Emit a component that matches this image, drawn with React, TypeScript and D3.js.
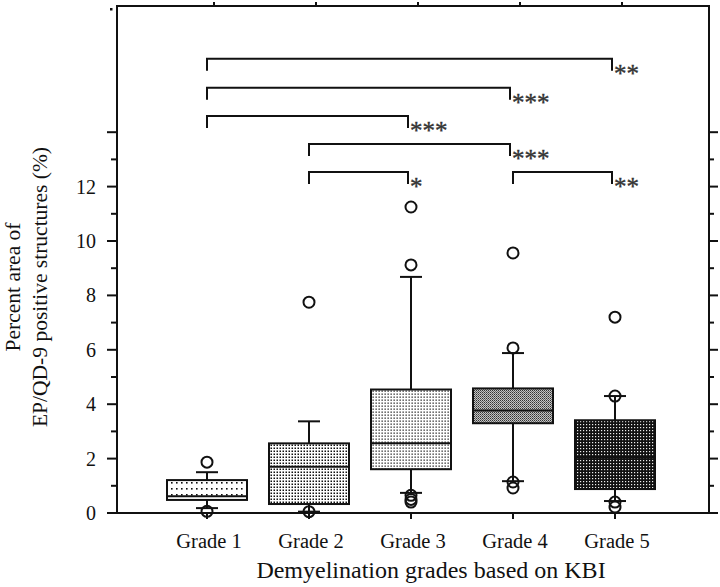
import React from "react";
import * as d3 from "d3";

const categories = ["Grade 1", "Grade 2", "Grade 3", "Grade 4", "Grade 5"];
const q1 = [0.48, 0.33, 1.61, 3.3, 0.88];
const medians = [0.62, 1.7, 2.56, 3.77, 2.05];
const q3 = [1.21, 2.56, 4.54, 4.58, 3.41];
const whiskerLow = [0.18, 0.05, 0.74, 1.17, 0.44];
const whiskerHigh = [1.5, 3.37, 8.68, 5.88, 4.3];
const outliers = [
  [1.87, 0.06],
  [7.75, 0.05],
  [11.25, 9.12, 0.65, 0.5, 0.4],
  [9.56, 6.07, 1.14, 0.92],
  [7.2, 4.3, 0.4, 0.22],
];
const yTicks = [0, 2, 4, 6, 8, 10, 12];
const compFrom = ["Grade 1", "Grade 1", "Grade 1", "Grade 2", "Grade 2", "Grade 4"];
const compTo = ["Grade 5", "Grade 4", "Grade 3", "Grade 4", "Grade 3", "Grade 5"];
const compLevel = [16.7, 15.63, 14.6, 13.57, 12.54, 12.54];
const compLabel = ["**", "***", "***", "***", "*", "**"];

const W = 720, H = 587;
const L = 117, R = 709, T = 6, B = 513;
const serif = "'Liberation Serif', 'DejaVu Serif', serif";

export default function App() {
  const y = d3.scaleLinear().domain([0, (B - T) / 27.2]).range([B, T]);
  const x = d3.scalePoint<string>().domain(categories).range([207, 615]);
  const bw = 80;
  const minor = d3.range(1, 15, 2);
  const major = d3.range(0, 15, 2);
  const pats = ["p1", "p2", "p3", "p4", "p5"];

  return (
    <svg width={W} height={H} style={{ display: "block", position: "absolute", left: 0, top: 0 }}>
      <defs>
        <pattern id="p1" width="5" height="6" patternUnits="userSpaceOnUse">
          <rect width="5" height="6" fill="#fff" />
          <rect x="1" y="2" width="1.6" height="1.6" fill="#111" />
        </pattern>
        <pattern id="p2" width="3" height="3" patternUnits="userSpaceOnUse">
          <rect width="3" height="3" fill="#fff" />
          <rect x="0.5" y="0.5" width="1.5" height="1.5" fill="#111" />
        </pattern>
        <pattern id="p3" width="3" height="3" patternUnits="userSpaceOnUse">
          <rect width="3" height="3" fill="#fff" />
          <rect x="0.5" y="0.5" width="1.3" height="1.3" fill="#222" />
        </pattern>
        <pattern id="p4" width="2" height="2" patternUnits="userSpaceOnUse">
          <rect width="2" height="2" fill="#c4c4c4" />
          <rect x="0" y="0" width="1" height="1" fill="#333" />
          <rect x="1" y="1" width="1" height="1" fill="#666" />
        </pattern>
        <pattern id="p5" width="3" height="3" patternUnits="userSpaceOnUse">
          <rect width="3" height="3" fill="#111" />
          <rect x="1" y="1" width="1.2" height="1.2" fill="#eee" />
        </pattern>
      </defs>

      {/* frame */}
      <rect x={L} y={T} width={R - L} height={B - T} fill="none" stroke="#111" strokeWidth={2} />
      <rect x={110} y={8} width={2.5} height={2.5} fill="#111" />

      {/* left axis ticks */}
      {major.map((v) => (
        <line key={"lm" + v} x1={L - 10} x2={L} y1={y(v)} y2={y(v)} stroke="#111" strokeWidth={2} />
      ))}
      {minor.map((v) => (
        <line key={"ln" + v} x1={L - 6} x2={L} y1={y(v)} y2={y(v)} stroke="#111" strokeWidth={2} />
      ))}
      {/* right axis ticks */}
      {major.map((v) => (
        <line key={"rm" + v} x1={R} x2={R + 9} y1={y(v)} y2={y(v)} stroke="#111" strokeWidth={2} />
      ))}
      {minor.map((v) => (
        <line key={"rn" + v} x1={R} x2={R + 5} y1={y(v)} y2={y(v)} stroke="#111" strokeWidth={2} />
      ))}
      {yTicks.map((v) => (
        <text key={"yt" + v} x={96} y={y(v) + 7} textAnchor="end" fontFamily={serif} fontSize={20} fill="#111">
          {v}
        </text>
      ))}
      {/* bottom / top ticks */}
      {categories.map((c) => (
        <g key={"xt" + c}>
          <line x1={x(c)!} x2={x(c)!} y1={B} y2={B + 6} stroke="#111" strokeWidth={2} />
          <line x1={x(c)! + 7} x2={x(c)! + 7} y1={T} y2={T - 4} stroke="#111" strokeWidth={2} />
          <text x={x(c)! + 2} y={548} textAnchor="middle" fontFamily={serif} fontSize={20.5} fill="#111">
            {c}
          </text>
        </g>
      ))}

      {/* boxes */}
      {categories.map((c, i) => {
        const cx = x(c)!;
        return (
          <g key={"box" + c}>
            <line x1={cx} x2={cx} y1={y(whiskerHigh[i])} y2={y(q3[i])} stroke="#111" strokeWidth={2} />
            <line x1={cx} x2={cx} y1={y(q1[i])} y2={y(whiskerLow[i])} stroke="#111" strokeWidth={2} />
            <line x1={cx - 11} x2={cx + 11} y1={y(whiskerHigh[i])} y2={y(whiskerHigh[i])} stroke="#111" strokeWidth={2} />
            <line x1={cx - 11} x2={cx + 11} y1={y(whiskerLow[i])} y2={y(whiskerLow[i])} stroke="#111" strokeWidth={2} />
            <rect
              x={cx - bw / 2}
              y={y(q3[i])}
              width={bw}
              height={y(q1[i]) - y(q3[i])}
              fill={`url(#${pats[i]})`}
              stroke="#111"
              strokeWidth={2}
            />
            <line x1={cx - bw / 2} x2={cx + bw / 2} y1={y(medians[i])} y2={y(medians[i])} stroke="#111" strokeWidth={2} />
            {outliers[i].map((o, j) => (
              <circle key={j} cx={cx} cy={y(o)} r={5.5} fill="none" stroke="#111" strokeWidth={2} />
            ))}
          </g>
        );
      })}

      {/* significance brackets */}
      {compFrom.map((f, i) => {
        const x1 = x(f)!;
        const x2 = x(compTo[i])! - 3;
        const yy = y(compLevel[i]);
        return (
          <g key={"cmp" + i}>
            <path d={`M${x1},${yy + 12}V${yy}H${x2}V${yy + 12}`} fill="none" stroke="#111" strokeWidth={2} />
            <text x={x2 + 2} y={yy + 23} fontFamily={serif} fontSize={25} fill="#333" stroke="#333" strokeWidth={0.4}>
              {compLabel[i]}
            </text>
          </g>
        );
      })}

      {/* axis titles */}
      <text x={431} y={578} textAnchor="middle" fontFamily={serif} fontSize={24} fill="#111">
        Demyelination grades based on KBI
      </text>
      <g transform="translate(20,287) rotate(-90)">
        <text x={0} y={0} textAnchor="middle" fontFamily={serif} fontSize={21.5} fill="#111">
          Percent area of
        </text>
        <text x={0} y={27} textAnchor="middle" fontFamily={serif} fontSize={21.5} fill="#111">
          EP/QD-9 positive structures (%)
        </text>
      </g>
    </svg>
  );
}
